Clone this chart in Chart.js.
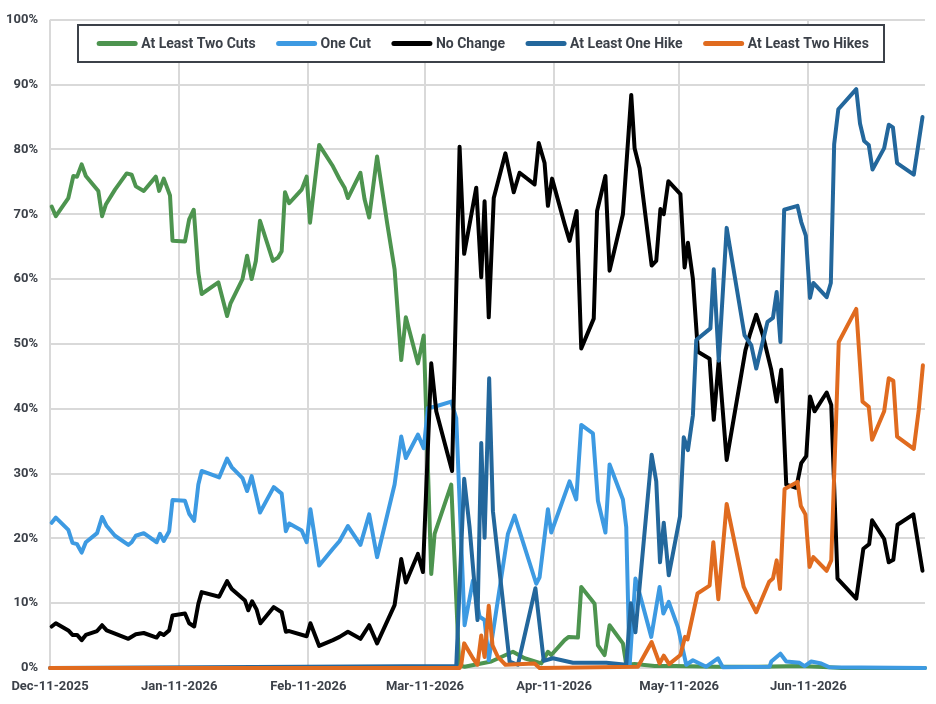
<!DOCTYPE html>
<html>
<head>
<meta charset="utf-8">
<title>Rate path probabilities</title>
<script src="https://cdn.jsdelivr.net/npm/chart.js@4.4.1/dist/chart.umd.min.js"></script>
<style>
  html, body { margin: 0; padding: 0; background: #fff; }
  #wrap { width: 936px; height: 704px; }
</style>
</head>
<body>
<div id="wrap"><canvas id="chart" width="936" height="704"></canvas></div>
<script>
// x = days since Dec-11-2025, y = probability in %
const tickDays = [0, 31, 62, 90, 121, 151, 182];
const tickLabels = ['Dec-11-2025', 'Jan-11-2026', 'Feb-11-2026', 'Mar-11-2026', 'Apr-11-2026', 'May-11-2026', 'Jun-11-2026'];

const twoCutsDays = [0.4, 1.4, 4.4, 5.6, 6.5, 7.6, 8.6, 11.6, 12.5, 13.4, 15.6, 18.4, 19.6, 20.6, 22.5, 25.4, 26.2, 27.3, 28.8, 29.4,
  32.4, 33.4, 34.5, 35.6, 36.4, 40.4, 42.5, 43.3, 46.2, 47.3, 48.4, 49.4, 50.4, 53.5, 54.7, 55.6, 56.4, 57.4, 60.4, 61.6,
  62.4, 64.6, 67.9, 69.5, 70.7, 71.5, 74.5, 75.5, 76.6, 78.5, 80.9, 82.7, 84.3, 85.4, 88.3, 89.7, 91.5, 92.3, 96.3, 98.2,
  99.5, 105.9, 111.1, 113.9, 117.9, 119.5, 120.3, 123.5, 124.5, 126.7, 127.5, 130.7, 131.5, 133.1, 134.3, 137.5, 138.3, 140.3, 145.1, 150,
  160, 170, 180, 187, 190, 210];
const twoCutsVals = [71.2, 69.7, 72.5, 75.9, 75.8, 77.7, 75.9, 73.6, 69.7, 71.5, 73.8, 76.3, 76.1, 74.3, 73.6, 75.8, 73.6, 75.5, 72.9, 65.9,
  65.8, 69.2, 70.7, 61.0, 57.7, 59.5, 54.3, 56.2, 60.0, 63.6, 60.0, 62.8, 69.0, 62.8, 63.3, 64.3, 73.4, 71.7, 73.8, 75.8,
  68.7, 80.7, 77.4, 75.4, 74.1, 72.5, 76.4, 72.3, 69.5, 78.9, 68.7, 61.5, 47.5, 54.1, 47.0, 51.3, 14.5, 20.7, 28.3, 0.4,
  0.2, 1.0, 2.5, 1.5, 0.7, 2.5, 2.0, 4.3, 4.8, 4.7, 12.5, 9.9, 3.5, 2.0, 6.6, 3.8, 0.5, 0.6, 0.3, 0.3,
  0.2, 0.2, 0.3, 0.1, 0, 0];

const oneCutDays = [0.4, 1.4, 4.4, 5.4, 6.5, 7.6, 8.6, 11.3, 12.5, 13.6, 15.6, 18.8, 19.6, 20.6, 22.5, 25.6, 26.4, 27.3, 28.6, 29.4,
  32.4, 33.4, 34.6, 35.6, 36.4, 40.6, 42.5, 43.6, 46.2, 47.3, 48.4, 49.4, 50.4, 53.7, 55.6, 56.6, 57.4, 60.4, 61.6, 62.5,
  64.6, 67.9, 69.5, 71.5, 74.5, 76.6, 78.5, 82.7, 84.3, 85.4, 88.3, 89.7, 90.7, 92.3, 96.3, 97.5, 99.5, 101.5, 103.1, 104.3,
  105.3, 109.9, 111.5, 116.7, 117.5, 119.5, 120.3, 124.7, 126.3, 127.5, 130.3, 131.5, 133.3, 134.3, 137.5, 138.3, 139.1, 140.5, 141.5, 144.3,
  146.3, 147.2, 148.5, 150.7, 152.7, 154.3, 157.5, 160.3, 161.5, 172.7, 173.1, 175.3, 176.7, 179.9, 181.1, 182.7, 185.1, 187.1, 210];
const oneCutVals = [22.4, 23.2, 21.3, 19.3, 19.1, 17.8, 19.4, 20.8, 23.3, 21.9, 20.4, 19.0, 19.4, 20.4, 20.8, 19.4, 20.7, 19.6, 21.1, 25.9,
  25.8, 23.8, 22.7, 28.3, 30.4, 29.4, 32.3, 31.0, 29.3, 27.3, 29.6, 26.8, 24.0, 27.9, 26.9, 21.1, 22.3, 21.2, 19.4, 24.5,
  15.8, 18.4, 19.6, 21.9, 19.0, 23.7, 17.1, 28.3, 35.7, 32.4, 36.0, 33.9, 40.1, 40.3, 41.1, 38.5, 6.6, 13.5, 7.9, 7.4,
  1.2, 20.7, 23.5, 13.0, 14.0, 24.5, 20.9, 28.8, 26.0, 37.5, 36.2, 25.8, 20.9, 31.4, 26.0, 21.7, 0.3, 13.8, 11.5, 4.8,
  12.5, 8.4, 10.2, 6.3, 0.5, 1.2, 0.2, 1.5, 0.1, 0.2, 1.0, 2.2, 1.0, 0.8, 0.3, 1.0, 0.7, 0.1, 0];

const noChangeDays = [0.4, 1.4, 4.4, 5.4, 6.5, 7.6, 8.6, 11.3, 12.5, 13.6, 15.6, 18.8, 20.6, 22.5, 25.6, 26.4, 27.3, 28.6, 29.4, 32.4,
  33.4, 34.6, 35.6, 36.4, 40.6, 42.5, 43.6, 46.8, 47.6, 48.5, 49.6, 50.5, 53.7, 55.6, 56.6, 57.4, 61.6, 62.5, 64.6, 67.9,
  69.5, 71.5, 74.5, 76.6, 78.5, 82.7, 84.3, 85.4, 88.3, 89.5, 91.5, 92.7, 96.5, 98.3, 99.4, 102.3, 103.5, 104.3, 105.3, 106.5,
  109.3, 111.3, 112.7, 116.3, 117.3, 118.7, 119.5, 120.5, 123.5, 124.7, 126.4, 127.5, 130.5, 131.3, 133.3, 134.3, 137.5, 139.5, 140.3, 141.5,
  144.4, 145.5, 146.5, 147.3, 148.4, 151.3, 152.3, 153.1, 154.3, 155.5, 158.3, 159.3, 160.5, 162.4, 166.9, 167.9, 169.5, 171.1, 173.1, 174.4,
  175.5, 176.7, 179.1, 180.3, 181.5, 182.4, 183.5, 186.4, 187.5, 189.0, 193.5, 195.2, 196.6, 197.3, 200.2, 201.3, 202.4, 203.4, 207.2, 209.4];
const noChangeVals = [6.4, 6.9, 5.8, 5.1, 5.1, 4.3, 5.1, 5.7, 6.6, 5.8, 5.3, 4.5, 5.2, 5.4, 4.7, 5.4, 5.1, 5.8, 8.1, 8.4,
  6.9, 6.4, 9.9, 11.7, 11.0, 13.4, 12.2, 10.4, 8.9, 10.3, 9.0, 6.9, 9.4, 8.6, 5.6, 5.7, 4.9, 6.9, 3.4, 4.3,
  4.8, 5.6, 4.5, 6.6, 3.8, 9.7, 16.8, 13.2, 17.6, 14.8, 47.0, 39.6, 30.4, 80.4, 63.9, 74.1, 60.3, 72.0, 54.1, 72.5,
  79.4, 73.4, 76.4, 74.6, 81.0, 77.9, 71.3, 75.5, 68.5, 65.9, 70.5, 49.3, 53.9, 70.5, 75.9, 61.3, 70.0, 88.4, 80.2, 77.1,
  62.1, 62.8, 70.8, 70.0, 75.1, 73.1, 61.8, 65.6, 60.0, 48.8, 47.7, 38.3, 47.5, 32.1, 49.0, 51.3, 54.5, 51.3, 46.0, 41.1,
  46.0, 28.3, 27.8, 31.6, 32.7, 41.9, 39.6, 42.5, 40.6, 13.8, 10.7, 18.4, 19.1, 22.8, 19.9, 16.3, 16.7, 22.1, 23.7, 15.0];

const oneHikeDays = [0, 97.5, 99.4, 100.7, 102.6, 103.5, 104.3, 105.4, 106.3, 110.3, 112.3, 116.5, 118.5, 120.7, 125.5, 133.5, 138.3, 139.4, 140.5, 144.4,
  145.5, 146.4, 147.3, 148.5, 151.2, 152.1, 153.1, 154.3, 155.1, 158.5, 159.3, 160.5, 162.4, 166.7, 168.3, 169.5, 172.2, 173.5, 174.4, 175.3,
  176.2, 179.4, 180.3, 181.4, 182.4, 183.2, 186.4, 187.4, 188.2, 189.2, 193.5, 194.4, 195.4, 196.5, 197.4, 200.2, 201.3, 202.3, 203.3, 207.3, 209.4];
const oneHikeVals = [0, 0.3, 29.2, 21.7, 7.4, 34.7, 20.1, 44.7, 24.2, 1.0, 0.5, 12.3, 1.1, 1.5, 0.8, 0.8, 0.5, 10.0, 5.5, 32.9,
  28.8, 16.3, 22.4, 14.3, 23.4, 35.6, 33.6, 39.0, 50.6, 52.4, 61.5, 47.4, 67.9, 51.3, 49.8, 46.2, 53.4, 54.0, 58.0, 50.3,
  70.7, 71.3, 68.8, 66.7, 57.1, 59.4, 57.2, 59.4, 80.8, 86.2, 89.3, 84.0, 81.3, 80.7, 76.9, 80.2, 83.8, 83.4, 77.9, 76.1, 85.0];

const twoHikesDays = [0, 98.3, 98.7, 99.4, 101.5, 102.6, 103.5, 104.3, 105.3, 106.2, 107.5, 109.3, 116.3, 117.5, 141.1, 144.4, 146.3, 147.3, 148.6, 151.3,
  152.4, 153.0, 155.4, 158.3, 159.2, 160.4, 162.4, 166.5, 167.9, 169.5, 172.6, 173.5, 174.4, 175.2, 176.3, 179.4, 180.2, 181.3, 182.3, 183.2,
  186.4, 187.5, 189.3, 193.5, 195.0, 196.5, 197.3, 200.2, 201.3, 202.4, 203.3, 207.3, 208.5, 209.5];
const twoHikesVals = [0, 0, 0.5, 3.8, 1.5, 0.5, 5.0, 1.7, 9.6, 3.5, 1.7, 0.5, 0.7, 0, 0.2, 4.0, 0.7, 1.9, 0.6, 2.0,
  4.8, 4.4, 11.5, 12.7, 19.4, 10.6, 25.3, 12.5, 10.6, 8.6, 13.3, 13.8, 16.6, 12.2, 27.6, 28.7, 25.0, 23.7, 15.6, 17.1,
  15.0, 16.6, 50.3, 55.4, 41.1, 40.3, 35.2, 39.6, 44.7, 44.3, 35.7, 33.8, 39.8, 46.7];

const TEXT = '#3c4149';
const GRID = '#d9d9d9';
const FONT = 'Roboto, "Noto Sans", sans-serif';

const pts = (days, vals) => days.map((d, i) => ({ x: d, y: vals[i] }));
function series(label, days, vals, color, order) {
  return {
    label, data: pts(days, vals), borderColor: color, backgroundColor: color,
    borderWidth: 4, pointRadius: 0, tension: 0, fill: false, clip: 6,
    borderJoinStyle: 'round', borderCapStyle: 'round', order,
  };
}

// legend drawn as a box inside the plot, like the original
const boxLegend = {
  id: 'boxLegend',
  afterDraw(chart) {
    const { ctx } = chart;
    const box = { l: 78, t: 25, r: 884, b: 62 };
    ctx.save();
    ctx.fillStyle = '#fff';
    ctx.fillRect(box.l, box.t, box.r - box.l, box.b - box.t);
    ctx.strokeStyle = TEXT;
    ctx.lineWidth = 2;
    ctx.strokeRect(box.l, box.t, box.r - box.l, box.b - box.t);

    ctx.font = 'bold 14px ' + FONT;
    const sw = 40, gap = 4, between = 21;
    const items = chart.data.datasets.map((ds) => ({ label: ds.label, color: ds.borderColor, w: ctx.measureText(ds.label).width }));
    const total = items.reduce((s, it) => s + sw + gap + it.w, 0) + between * (items.length - 1);
    let x = (box.l + box.r) / 2 - total / 2 + 2;
    const y = (box.t + box.b) / 2;
    ctx.textBaseline = 'middle';
    ctx.textAlign = 'left';
    for (const it of items) {
      ctx.strokeStyle = it.color;
      ctx.lineWidth = 5;
      ctx.lineCap = 'round';
      ctx.beginPath();
      ctx.moveTo(x + 2, y);
      ctx.lineTo(x + sw - 2, y);
      ctx.stroke();
      ctx.fillStyle = TEXT;
      ctx.fillText(it.label, x + sw + gap, y + 0.5);
      x += sw + gap + it.w + between;
    }
    ctx.restore();
  },
};

new Chart(document.getElementById('chart').getContext('2d'), {
  type: 'line',
  data: {
    datasets: [
      series('At Least Two Cuts', twoCutsDays, twoCutsVals, '#4d944f', 4),
      series('One Cut', oneCutDays, oneCutVals, '#3d9ae2', 3),
      series('No Change', noChangeDays, noChangeVals, '#000000', 2),
      series('At Least One Hike', oneHikeDays, oneHikeVals, '#23679c', 1),
      series('At Least Two Hikes', twoHikesDays, twoHikesVals, '#e06b1f', 0),
    ],
  },
  options: {
    responsive: false,
    animation: false,
    layout: { padding: { top: 16, right: 11, left: 0, bottom: 0 } },
    plugins: { legend: { display: false }, tooltip: { enabled: false } },
    scales: {
      x: {
        type: 'linear', min: 0, max: 210,
        afterBuildTicks: (s) => { s.ticks = tickDays.map((v) => ({ value: v })); },
        afterFit: (s) => { s.height = 36; },
        grid: { color: GRID, lineWidth: 2, drawTicks: false },
        border: { display: false },
        ticks: {
          padding: 11, maxRotation: 0, autoSkip: false,
          color: TEXT, font: { family: FONT, size: 13, weight: 'bold' },
          callback: (v) => tickLabels[tickDays.indexOf(v)] ?? '',
        },
      },
      y: {
        min: 0, max: 100,
        afterFit: (s) => { s.width = 50; },
        grid: { color: GRID, lineWidth: 2, drawTicks: false },
        border: { display: false },
        ticks: {
          stepSize: 10, padding: 12,
          color: TEXT, font: { family: FONT, size: 13, weight: 'bold' },
          callback: (v) => v + '%',
        },
      },
    },
  },
  plugins: [boxLegend],
});
</script>
</body>
</html>
